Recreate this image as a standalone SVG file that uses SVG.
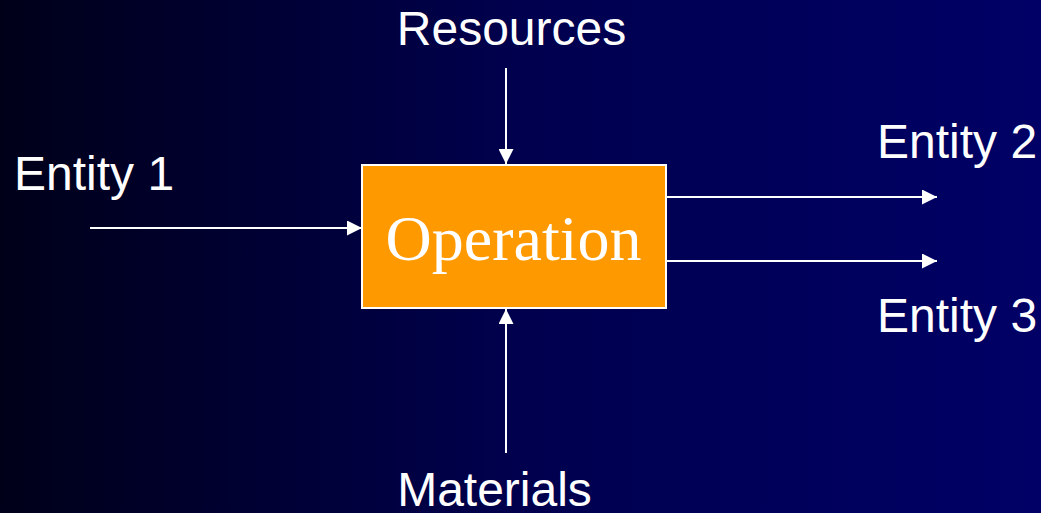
<svg xmlns="http://www.w3.org/2000/svg" width="1041" height="513" viewBox="0 0 1041 513">
<defs>
<linearGradient id="bg" x1="0" y1="0" x2="1" y2="0">
<stop offset="0" stop-color="#000019"/>
<stop offset="0.5" stop-color="#00004e"/>
<stop offset="1" stop-color="#000066"/>
</linearGradient>
<marker id="ah" markerWidth="15" markerHeight="15" viewBox="0 0 15 15" refX="15" refY="7.5" orient="auto" markerUnits="userSpaceOnUse">
<path d="M0,0 L15,7.5 L0,15 Z" fill="#fff"/>
</marker>
<style>
.lbl{font-family:"Liberation Sans",Arial,sans-serif;font-size:48px;fill:#fff}
.conn{stroke:#fff;stroke-width:2;fill:none;marker-end:url(#ah)}
</style>
</defs>
<rect width="1041" height="513" fill="url(#bg)"/>
<g id="connectors">
<line class="conn" x1="90" y1="228" x2="362" y2="228"/>
<line class="conn" x1="506" y1="68" x2="506" y2="164"/>
<line class="conn" x1="506" y1="453" x2="506" y2="309"/>
<line class="conn" x1="667" y1="197" x2="937" y2="197"/>
<line class="conn" x1="667" y1="261" x2="937" y2="261"/>
</g>
<g id="operation">
<rect x="362" y="165" width="304" height="143" fill="#ff9900" stroke="#fff" stroke-width="2"/>
<text x="513.5" y="260" text-anchor="middle" font-family="Liberation Serif,'Times New Roman',serif" font-size="64" fill="#fff">Operation</text>
</g>
<g id="resources"><text class="lbl" x="511.5" y="45" text-anchor="middle">Resources</text></g>
<g id="materials"><text class="lbl" x="494.5" y="506" text-anchor="middle">Materials</text></g>
<g id="entity1"><text class="lbl" x="14" y="190">Entity 1</text></g>
<g id="entity2"><text class="lbl" x="877" y="158">Entity 2</text></g>
<g id="entity3"><text class="lbl" x="877" y="332">Entity 3</text></g>
</svg>
